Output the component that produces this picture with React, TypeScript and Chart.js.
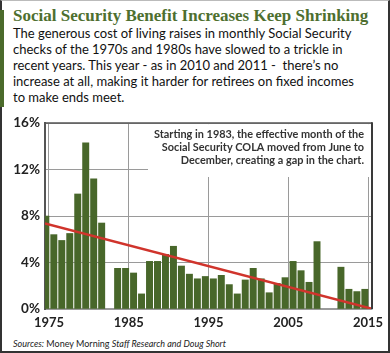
import React, { useEffect, useRef } from "react";
import { Chart, registerables } from "chart.js";

Chart.register(...registerables);

const years = [
  "1975", "1976", "1977", "1978", "1979", "1980", "1981", "1982", "1983", "1984",
  "1985", "1986", "1987", "1988", "1989", "1990", "1991", "1992", "1993", "1994",
  "1995", "1996", "1997", "1998", "1999", "2000", "2001", "2002", "2003", "2004",
  "2005", "2006", "2007", "2008", "2009", "2010", "2011", "2012", "2013", "2014",
  "2015",
];

const colaValues: (number | null)[] = [
  8.0, 6.4, 5.9, 6.5, 9.9, 14.3, 11.2, 7.4, null, 3.5,
  3.5, 3.1, 1.3, 4.1, 4.1, 4.7, 5.4, 3.7, 3.0, 2.6,
  2.8, 2.6, 2.9, 2.1, 1.3, 2.5, 3.5, 2.6, 1.4, 2.2,
  2.7, 4.1, 3.3, 2.3, 5.8, null, null, 3.6, 1.7, 1.5,
  1.7,
];

const labeledYears = ["1975", "1985", "1995", "2005", "2015"];

const trendYears = [1974.5, 2015.5];
const trendValues = [7.37, 0.02];

const yTicks = [0, 4, 8, 12, 16];

const title = "Social Security Benefit Increases Keep Shrinking";
const subtitleLines = [
  "The generous cost of living raises in monthly Social Security",
  "checks of the 1970s and 1980s have slowed to a trickle in",
  "recent years. This year - as in 2010 and 2011 -  there\u2019s no",
  "increase at all, making it harder for retirees on fixed incomes",
  "to make ends meet.",
];
const annotationLines = [
  "Starting in 1983, the effective month of the",
  "Social Security COLA moved from June to",
  "December, creating a gap in the chart.",
];

const framePlugin = {
  id: "frameAndNote",
  beforeDatasetsDraw(chart: any) {
    const { ctx, chartArea: a } = chart;
    ctx.save();
    ctx.fillStyle = "#ffffff";
    const boxLeft = 148;
    const boxBottom = 67;
    ctx.fillRect(boxLeft, a.top + 1, a.right - 1 - boxLeft, boxBottom - a.top - 1);
    ctx.font = "bold 10.5px Lato";
    ctx.fillStyle = "#333333";
    ctx.textAlign = "right";
    ctx.textBaseline = "alphabetic";
    const w = ctx.measureText(annotationLines[0]).width;
    const s = 210 / w;
    annotationLines.forEach((t, i) => {
      ctx.save();
      ctx.translate(364, 27.5 + i * 13);
      ctx.scale(s, 1);
      ctx.fillText(t, 0, 0);
      ctx.restore();
    });
    ctx.restore();
  },
  afterDraw(chart: any) {
    const { ctx, chartArea: a } = chart;
    ctx.save();
    ctx.strokeStyle = "#555555";
    ctx.lineWidth = 1.5;
    ctx.beginPath();
    ctx.moveTo(a.left, a.top);
    ctx.lineTo(a.right, a.top);
    ctx.stroke();
    ctx.lineWidth = 2;
    ctx.strokeStyle = "#3a3a3a";
    ctx.beginPath();
    ctx.moveTo(a.right, a.top - 0.75);
    ctx.lineTo(a.right, a.bottom);
    ctx.stroke();
    ctx.restore();
  },
};

function ColaChart() {
  const ref = useRef<HTMLCanvasElement | null>(null);
  useEffect(() => {
    if (!ref.current) return;
    const chart = new Chart(ref.current, {
      type: "bar",
      data: {
        labels: years,
        datasets: [
          {
            type: "bar",
            data: colaValues,
            backgroundColor: "#48672a",
            borderWidth: 0,
            barThickness: 6.3,
            order: 1,
            xAxisID: "x",
            yAxisID: "y",
          } as any,
          {
            type: "line",
            data: trendYears.map((x, i) => ({ x, y: trendValues[i] })),
            borderColor: "#d0342c",
            borderWidth: 2.5,
            pointRadius: 0,
            fill: false,
            order: 0,
            xAxisID: "x2",
            yAxisID: "y",
          } as any,
        ],
      },
      options: {
        animation: false,
        responsive: false,
        maintainAspectRatio: false,
        events: [],
        layout: { padding: { top: 13, right: 18, left: 0, bottom: 0 } },
        plugins: {
          legend: { display: false },
          tooltip: { enabled: false },
        },
        scales: {
          x: {
            type: "category",
            offset: true,
            afterFit: (s: any) => {
              s.height = 26;
            },
            grid: {
              offset: false,
              color: "#9a9a9a",
              lineWidth: 1,
              drawTicks: false,
            },
            border: { display: true, color: "#9a9a9a", width: 1.5 },
            ticks: {
              autoSkip: false,
              maxRotation: 0,
              minRotation: 0,
              padding: 6,
              color: "#222",
              font: { family: "Lato", weight: "bold", size: 13 },
              callback: function (this: any, v: any) {
                const lab = this.getLabelForValue(v);
                return labeledYears.includes(lab) ? lab : null;
              },
            },
          },
          x2: {
            type: "linear",
            display: false,
            offset: false,
            bounds: "data",
            grace: 0,
            grid: { offset: false },
            min: Number(years[0]) - 0.5,
            max: Number(years[years.length - 1]) + 0.5,
          },
          y: {
            min: yTicks[0],
            max: yTicks[yTicks.length - 1],
            afterFit: (s: any) => {
              s.width = 45;
            },
            afterBuildTicks: (s: any) => {
              s.ticks = yTicks.map((v) => ({ value: v }));
            },
            grid: { color: "#9a9a9a", lineWidth: 1, drawTicks: false },
            border: { display: true, color: "#555", width: 2 },
            ticks: {
              padding: 5,
              color: "#222",
              font: { family: "Lato", weight: "bold", size: 13.5 },
              callback: (v: any) => v + "%",
            },
          },
        },
      } as any,
      plugins: [framePlugin],
    });
    return () => chart.destroy();
  }, []);
  return <canvas ref={ref} width={390} height={225} style={{ display: "block", width: 390, height: 225 }} />;
}

export default function App() {
  return (
    <>
      <style>{`html,body{margin:0;padding:0;background:#fff;}`}</style>
      <div
        style={{
          position: "relative",
          width: 390,
          height: 353,
          overflow: "hidden",
          background: "#fff",
          fontFamily: "Lato, sans-serif",
        }}
      >
        <div
          style={{
            position: "absolute",
            left: 13,
            top: 6,
            font: 'bold 17px "Liberation Serif", serif',
            lineHeight: "20px",
            color: "#4e6f2f",
            whiteSpace: "nowrap",
          }}
        >
          {title}
        </div>
        <div
          style={{
            position: "absolute",
            left: 13,
            top: 25,
            font: "13px Lato, sans-serif",
            lineHeight: "16px",
            color: "#111",
            whiteSpace: "pre",
          }}
        >
          {subtitleLines.join("\n")}
        </div>
        <div style={{ position: "absolute", left: 0, top: 110, width: 390, height: 225 }}>
          <ColaChart />
        </div>
        <div
          style={{
            position: "absolute",
            left: 13,
            top: 338,
            font: "9px Lato, sans-serif",
            lineHeight: "11px",
            color: "#222",
            whiteSpace: "nowrap",
          }}
        >
          <i>Sources:</i> Money Morning <i>Staff Research and Doug Short</i>
        </div>
        <div
          style={{
            position: "absolute",
            left: 0,
            top: 10,
            width: 4,
            height: 97,
            background: "#4b6b2b",
            zIndex: 3,
          }}
        />
        <div
          style={{
            position: "absolute",
            left: 0,
            top: 0,
            width: 390,
            height: 353,
            boxSizing: "border-box",
            borderLeft: "2px solid #333",
            borderRight: "2px solid #333",
            borderBottom: "2px solid #333",
            borderTop: "1px solid #bbb",
            pointerEvents: "none",
            zIndex: 2,
          }}
        />
      </div>
    </>
  );
}
